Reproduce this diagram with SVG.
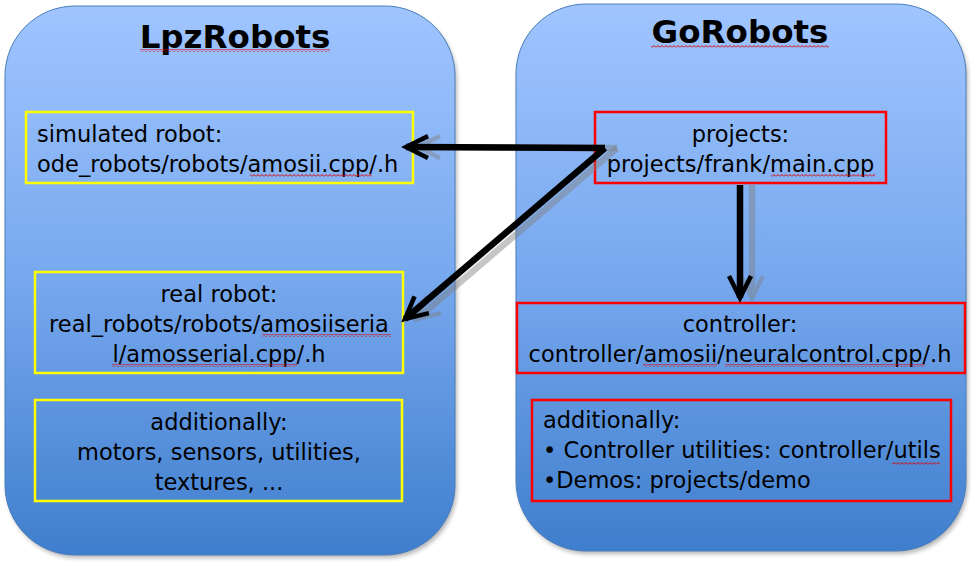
<svg xmlns="http://www.w3.org/2000/svg" width="976" height="564" viewBox="0 0 976 564">
<defs>
<linearGradient id="bg" x1="0" y1="0" x2="0" y2="1">
<stop offset="0" stop-color="#a0c5ff"/>
<stop offset="0.5" stop-color="#77a8ee"/>
<stop offset="1" stop-color="#3f7ecd"/>
</linearGradient>
<filter id="blur" x="-10%" y="-10%" width="120%" height="120%"><feGaussianBlur stdDeviation="2"/></filter>
<pattern id="sq" width="4" height="3" patternUnits="userSpaceOnUse">
<path d="M0,2.5 L2,0.5 L4,2.5" fill="none" stroke="#e00000" stroke-width="1"/>
</pattern>
<marker id="chev" markerUnits="userSpaceOnUse" markerWidth="40" markerHeight="40" refX="0" refY="0" viewBox="-30 -20 40 40" orient="auto" overflow="visible">
<path d="M-22,-11 L0,0 L-22,11" fill="none" stroke="#000" stroke-width="4.5"/>
</marker>
<marker id="chevs" markerUnits="userSpaceOnUse" markerWidth="40" markerHeight="40" refX="0" refY="0" viewBox="-30 -20 40 40" orient="auto" overflow="visible">
<path d="M-22,-11 L0,0 L-22,11" fill="none" stroke="#7f7f7f" stroke-width="4.5"/>
</marker>
</defs>
<style>
.cont{fill:url(#bg);stroke:#4a7ebb;stroke-width:1}
.shadow{fill:#7a7a7a;opacity:0.55;filter:url(#blur)}
.title{font-family:"DejaVu Sans",sans-serif;font-weight:bold;font-size:32.5px;fill:#000;text-anchor:middle}
.t{font-family:"DejaVu Sans",sans-serif;font-size:22.5px;fill:#000}
.c{text-anchor:middle}
.yb{fill:none;stroke:#ffff00;stroke-width:2.5}
.rb{fill:none;stroke:#ff0000;stroke-width:2.5}
.ln{fill:none;stroke:#000;stroke-width:6.5;marker-end:url(#chev)}
.lns{fill:none;stroke:#7f7f7f;stroke-width:6.5;opacity:0.45;marker-end:url(#chevs)}
.sq{fill:url(#sq)}
</style>

<g id="lpz">
<rect class="shadow" x="7" y="10" width="450" height="548" rx="70" ry="70"/>
<rect class="cont" x="5" y="6" width="450" height="549" rx="70" ry="70"/>
<text class="title" x="235" y="48">LpzRobots</text>
<rect class="sq" x="140" y="49" width="190" height="3"/>
</g>
<g id="go">
<rect class="shadow" x="518" y="8" width="450" height="546" rx="70" ry="70"/>
<rect class="cont" x="516" y="4" width="450" height="547" rx="70" ry="70"/>
<text class="title" x="740" y="43">GoRobots</text>
<rect class="sq" x="651" y="45" width="178" height="3"/>
</g>

<g id="sim">
<rect class="yb" x="26" y="112" width="387" height="71"/>
<text class="t" x="37" y="142">simulated robot:</text>
<text class="t" x="37" y="172">ode_robots/robots/amosii.cpp/.h</text>
<rect class="sq" x="250" y="174" width="122" height="3"/>
</g>
<g id="real">
<rect class="yb" x="35" y="272" width="368" height="101"/>
<text class="t c" x="219" y="302">real robot:</text>
<text class="t c" x="219" y="332">real_robots/robots/amosiiseria</text>
<text class="t c" x="219" y="362">l/amosserial.cpp/.h</text>
<rect class="sq" x="262" y="334" width="129" height="3"/>
<rect class="sq" x="112" y="364" width="185" height="3"/>
</g>
<g id="addl">
<rect class="yb" x="35" y="400" width="367" height="101"/>
<text class="t c" x="219" y="430">additionally:</text>
<text class="t c" x="219" y="460">motors, sensors, utilities,</text>
<text class="t c" x="219" y="490">textures, ...</text>
</g>

<g id="proj">
<rect class="rb" x="595" y="112" width="291" height="71"/>
<text class="t c" x="740.5" y="142">projects:</text>
<text class="t c" x="740.5" y="172">projects/frank/main.cpp</text>
<rect class="sq" x="771" y="174" width="104" height="3"/>
</g>
<g id="ctrl">
<rect class="rb" x="517" y="303" width="448" height="70"/>
<text class="t c" x="740" y="332">controller:</text>
<text class="t c" x="740" y="362">controller/amosii/neuralcontrol.cpp/.h</text>
<rect class="sq" x="643" y="364" width="74" height="3"/>
<rect class="sq" x="725" y="364" width="200" height="3"/>
</g>
<g id="addr">
<rect class="rb" x="532" y="400" width="419" height="101"/>
<text class="t" x="543" y="428">additionally:</text>
<text class="t" x="543" y="458">• Controller utilities: controller/utils</text>
<text class="t" x="543" y="488">•Demos: projects/demo</text>
<rect class="sq" x="892" y="462" width="48" height="3"/>
</g>

<g id="connectors">
<g transform="translate(12,0)">
<path class="lns" d="M605,148 L406,147"/>
<path class="lns" d="M605,148 L405,319"/>
<path class="lns" d="M740,185 L740,298"/>
</g>
<path class="ln" d="M605,148 L406,147"/>
<path class="ln" d="M605,148 L405,319"/>
<path class="ln" d="M740,185 L740,298"/>
</g>
</svg>
